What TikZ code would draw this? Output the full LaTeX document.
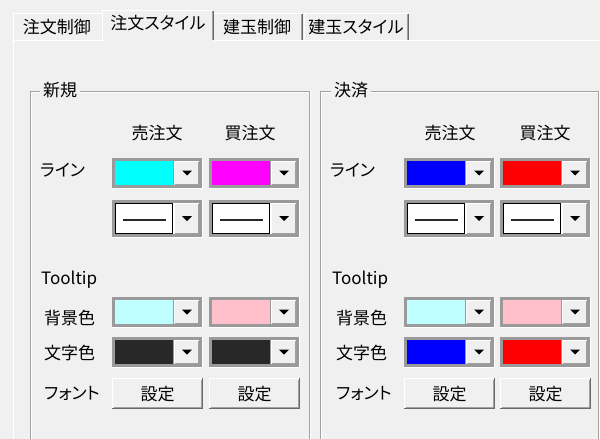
\documentclass[tikz,border=0pt]{standalone}
\usepackage{fontspec}
\setmainfont{Noto Sans CJK JP}[RawFeature=+palt]
\definecolor{bg}{HTML}{F0F0F0}
\definecolor{egray}{HTML}{A0A0A0}
\definecolor{dgray}{HTML}{696969}
\definecolor{cbord}{HTML}{9A9A9A}
\definecolor{ccyan}{HTML}{00FFFF}
\definecolor{cmag}{HTML}{FF00FF}
\definecolor{lcyan}{HTML}{C0FFFF}
\definecolor{cpink}{HTML}{FFC0CB}
\definecolor{nblack}{HTML}{282828}
\definecolor{cblue}{HTML}{0000FF}
\definecolor{cred}{HTML}{FF0000}
\newcommand\DropBtn[1]{% height of inner area bottom
  \fill[bg] (62,3) rectangle (87,#1);
  \draw[white] (62.5,#1-0.5) -- (62.5,3.5) -- (86.5,3.5);
  \draw[egray] (62.5,#1-0.5) -- (86.5,#1-0.5) -- (86.5,3.5);
  \fill[black] (70,{(#1+3)/2-2.5}) -- (80,{(#1+3)/2-2.5}) -- (75,{(#1+3)/2+2.5}) -- cycle;
}
\newcommand\ColCombo[3]{%
  \begin{scope}[shift={(#1,#2)}]
    \fill[cbord] (0,0) rectangle (90,30);
    \draw[white] (0,30.5) -- (90.5,30.5) -- (90.5,0);
    \fill[#3] (3,3) rectangle (61,27);
    \DropBtn{27}
  \end{scope}}
\newcommand\LineCombo[2]{%
  \begin{scope}[shift={(#1,#2)}]
    \fill[cbord] (0,0) rectangle (90,37);
    \draw[white] (0,37.5) -- (90.5,37.5) -- (90.5,0);
    \fill[white] (3,3) rectangle (62,34);
    \draw[black] (3.5,3.5) rectangle (60.5,33.5);
    \draw[nblack, line width=1.4pt] (11,20) -- (54,20);
    \DropBtn{34}
  \end{scope}}
\newcommand\PushBtn[3]{%
  \begin{scope}[shift={(#1,#2)}]
    \fill[bg] (0,0) rectangle (91,31);
    \draw[white] (0.5,30.5) -- (0.5,0.5) -- (90.5,0.5);
    \draw[dgray] (0,30.5) -- (90.5,30.5) -- (90.5,0);
    \draw[egray] (1.5,29.5) -- (89.5,29.5) -- (89.5,1.5);
    \node[lbl] (#3) at (45.5,16) {設定};
  \end{scope}}
\begin{document}
\begin{tikzpicture}[x=1pt,y=-1pt,
  lbl/.style={inner sep=0pt, font=\fontsize{17}{17}\selectfont, text height=14pt, text depth=1pt},
  grp/.style={lbl, fill=bg, inner xsep=3pt}]
\useasboundingbox (0,0) rectangle (600,439);
\fill[bg] (0,0) rectangle (600,439);
% panel
\draw[white] (13,40.5) -- (600,40.5);
\draw[white] (13.5,40) -- (13.5,439);
% tab 1
\fill[bg] (13,13) rectangle (102,40);
\draw[white] (13.5,40) -- (13.5,13.5) -- (102,13.5);
% tab 3
\fill[bg] (214,13) rectangle (304,40);
\draw[white] (214,13.5) -- (302,13.5);
\draw[egray] (301.5,14) -- (301.5,40);
\draw[dgray] (302.5,14) -- (302.5,40);
% tab 4
\fill[bg] (304,13) rectangle (410,40);
\draw[white] (304.5,40) -- (304.5,13.5) -- (408,13.5);
\draw[egray] (407.5,14) -- (407.5,40);
\draw[dgray] (408.5,14) -- (408.5,40);
% selected tab 2
\fill[bg] (102,10) rectangle (214,42);
\draw[white] (102.5,41) -- (102.5,10.5) -- (212,10.5);
\draw[egray] (212.5,11) -- (212.5,40);
\draw[dgray] (213.5,11) -- (213.5,40);
\node[lbl] (t1) at (57,27) {注文制御};
\node[lbl] (t2) at (158,23) {注文スタイル};
\node[lbl] (t3) at (257,27) {建玉制御};
\node[lbl] (t4) at (356,27) {建玉スタイル};
% group frames
\draw[egray] (30.5,439) -- (30.5,91.5) -- (309.5,91.5) -- (309.5,439);
\draw[white] (31.5,439) -- (31.5,92.5) -- (308.5,92.5);
\draw[white] (310.5,91) -- (310.5,439);
\draw[egray] (320.5,439) -- (320.5,91.5) -- (598.5,91.5) -- (598.5,439);
\draw[white] (321.5,439) -- (321.5,92.5) -- (597.5,92.5);
\draw[white] (599.5,91) -- (599.5,439);
\node[grp] (g1) at (60,90) {新規};
\node[grp] (g2) at (351,90) {決済};
% headers
\node[lbl] (h1) at (157,133) {売注文};
\node[lbl] (h2) at (250,133) {買注文};
\node[lbl] (h3) at (450,133) {売注文};
\node[lbl] (h4) at (545,133) {買注文};
% row labels
\node[lbl, anchor=west] (l1) at (40,170) {ライン};
\node[lbl, anchor=west] (l2) at (41,278) {Tooltip};
\node[lbl, anchor=west] (l3) at (44,318) {背景色};
\node[lbl, anchor=west] (l4) at (44,353) {文字色};
\node[lbl, anchor=west] (l5) at (44,393) {フォント};
\node[lbl, anchor=west] (r1) at (330,170) {ライン};
\node[lbl, anchor=west] (r2) at (332,278) {Tooltip};
\node[lbl, anchor=west] (r3) at (336,318) {背景色};
\node[lbl, anchor=west] (r4) at (336,353) {文字色};
\node[lbl, anchor=west] (r5) at (336,393) {フォント};
% left group controls
\ColCombo{112}{158}{ccyan}
\ColCombo{209}{158}{cmag}
\LineCombo{112}{200}
\LineCombo{209}{200}
\ColCombo{112}{297}{lcyan}
\ColCombo{209}{297}{cpink}
\ColCombo{112}{337}{nblack}
\ColCombo{209}{337}{nblack}
\PushBtn{112}{378}{b1}
\PushBtn{209}{378}{b2}
% right group controls
\ColCombo{404}{158}{cblue}
\ColCombo{500}{158}{cred}
\LineCombo{404}{200}
\LineCombo{500}{200}
\ColCombo{404}{297}{lcyan}
\ColCombo{500}{297}{cpink}
\ColCombo{404}{337}{cblue}
\ColCombo{500}{337}{cred}
\PushBtn{404}{378}{b3}
\PushBtn{500}{378}{b4}
\end{tikzpicture}
\end{document}
